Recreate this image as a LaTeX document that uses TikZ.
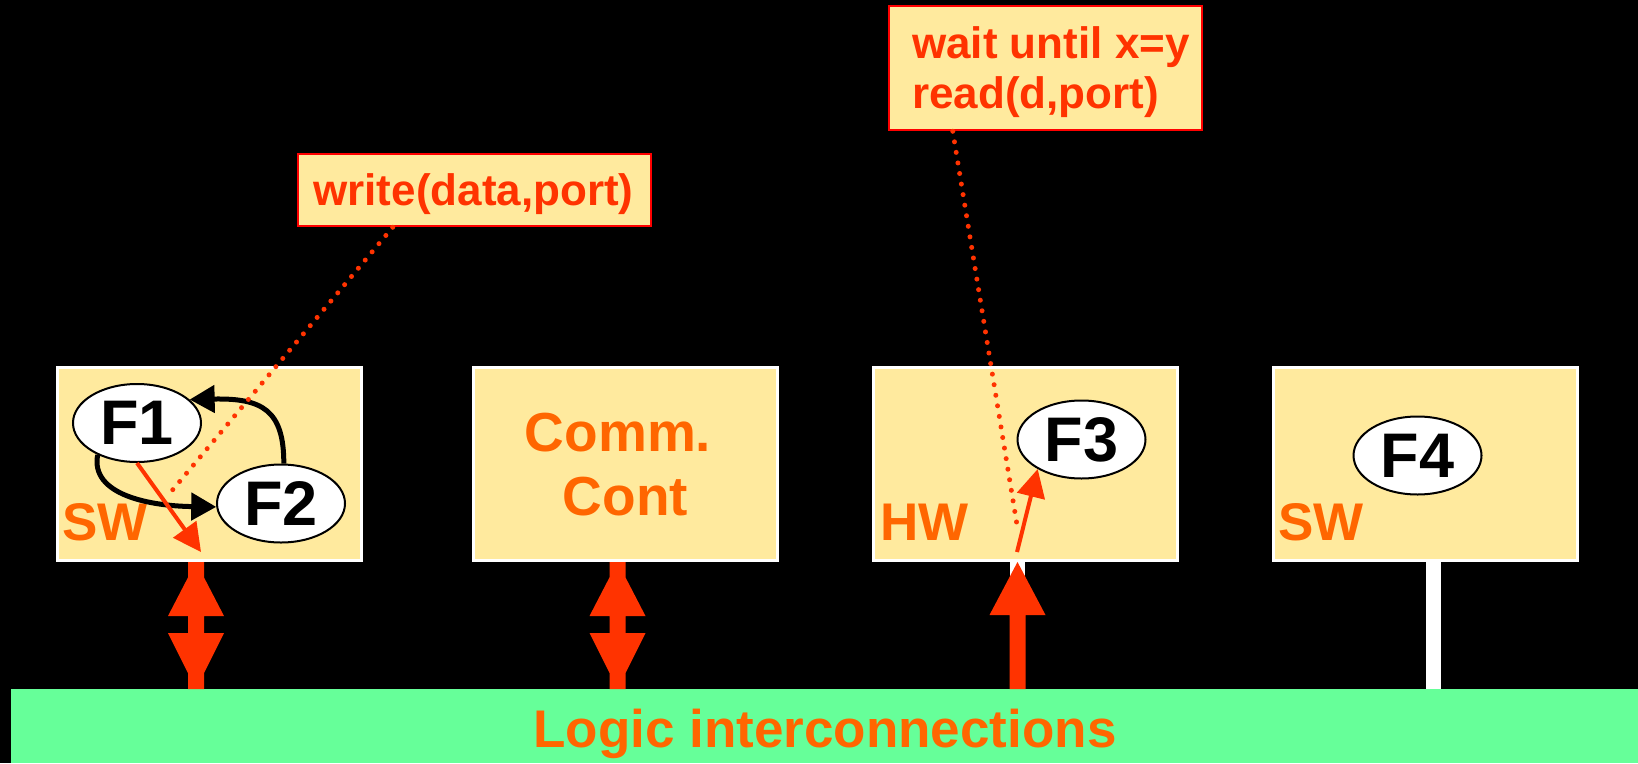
\documentclass[tikz,border=0pt]{standalone}
\usepackage{fontspec}
\setmainfont{Liberation Sans}
\usetikzlibrary{shapes.geometric,arrows.meta,calc}

\definecolor{boxfill}{RGB}{255,234,158}
\definecolor{busgreen}{RGB}{102,255,153}
\definecolor{labelorange}{RGB}{255,102,0}
\definecolor{codered}{RGB}{255,51,0}
\definecolor{notered}{RGB}{255,0,0}

\tikzset{
  unit/.style={draw=white, line width=3pt, fill=boxfill,
    minimum width=304pt, minimum height=193pt, inner sep=0pt},
  func/.style={ellipse, draw=black, line width=2pt, fill=white,
    minimum width=128pt, minimum height=78pt, inner sep=0pt,
    font=\fontsize{63}{63}\selectfont\bfseries},
  kind/.style={text=labelorange, font=\fontsize{53}{53}\selectfont\bfseries,
    inner sep=0pt, anchor=base west},
  commtext/.style={text=labelorange, font=\fontsize{55}{55}\selectfont\bfseries,
    inner sep=0pt, anchor=base},
  note/.style={draw=notered, line width=2.5pt, fill=boxfill, inner sep=0pt},
  notetext/.style={text=codered, font=\fontsize{44}{50}\selectfont\bfseries,
    inner sep=0pt},
  tether/.style={draw=white, line width=15pt},
  callout/.style={draw=codered, line width=5pt,
    dash pattern=on 0pt off 10.7pt, line cap=round},
  flow/.style={draw=black, line width=5pt, -{Triangle[length=25pt,width=27pt]}},
  access/.style={draw=codered, line width=4pt, -{Triangle[length=28pt,width=28pt]}},
  pics/dblarrow/.style={code={
    \fill[codered] (-8,0) -- (8,0) -- (8,15.4) -- (28,54) -- (8,54) -- (8,71)
      -- (28,71) -- (8,111) -- (8,127) -- (-8,127) -- (-8,111) -- (-28,71)
      -- (-8,71) -- (-8,54) -- (-28,54) -- (-8,15.4) -- cycle;}},
  pics/uparrow/.style={code={
    \fill[codered] (0,0) -- (28,53) -- (8,53) -- (8,127) -- (-8,127)
      -- (-8,53) -- (-28,53) -- cycle;}},
}

\begin{document}
\begin{tikzpicture}[x=1pt,y=-1pt]
  % canvas
  \fill[black] (0,0) rectangle (1638,763);
  \useasboundingbox (0,0) rectangle (1638,763);

  % logic interconnection bus
  \node[fill=busgreen, minimum width=1627pt, minimum height=74pt, inner sep=0pt,
        anchor=north west] (bus) at (11,689) {};
  \node[text=labelorange, font=\fontsize{53}{53}\selectfont\bfseries,
        inner sep=0pt, anchor=base] (buslabel) at (825,747) {Logic interconnections};

  % attachment points on the units
  \coordinate (p1) at (196,562);
  \coordinate (p2) at (617.5,562);
  \coordinate (p3) at (1017.5,562);
  \coordinate (p4) at (1433.5,562);

  % white links from units to the bus
  \draw[tether] (p1) -- (p1 |- bus.north);
  \draw[tether] (p3) -- (p3 |- bus.north);
  \draw[tether] (p4) -- (p4 |- bus.north);

  % processing units
  \node[unit] (sw1) at (209,464) {};
  \node[unit] (cc)  at (625.5,464) {};
  \node[unit] (hw)  at (1025.5,464) {};
  \node[unit] (sw2) at (1425.5,464) {};

  \node[kind] (sw1label) at (62,540) {SW};
  \node[kind] (hwlabel)  at (880,540) {HW};
  \node[kind] (sw2label) at (1278,540) {SW};
  \node[commtext] (comm1) at (618,451) {Comm.};
  \node[commtext] (comm2) at (625.5,515) {Cont};

  % block arrows to the bus
  \pic at (p1) {dblarrow};
  \pic at (p2) {dblarrow};
  \pic at (p3) {uparrow};

  % functions
  \node[func] (F1) at (137,423) {F1};
  \node[func] (F2) at (281,503.5) {F2};
  \node[func] (F3) at (1081.5,439.5) {F3};
  \node[func] (F4) at (1417.5,455.5) {F4};

  % control flow between F1 and F2
  \draw[flow] (F1.219) .. controls (90,495) and (150,506) .. (F2.183);
  \draw[flow] (F2.86) .. controls (284,410) and (262,398) .. (F1.24);

  % port accesses
  \coordinate (w1) at (201,552);
  \draw[access] (F1.south) -- (w1);
  \coordinate (r1) at (1017,552);
  \draw[access] (r1) -- (F3.214);

  % communication primitives
  \node[note, minimum width=353pt, minimum height=72pt] (writebox) at (474.5,190) {};
  \node[notetext, anchor=base] (writetext) at (473.5,205) {write(data,port)};

  \node[note, minimum width=313pt, minimum height=124pt] (readbox) at (1045.5,68) {};
  \node[notetext, anchor=base west] (waitline) at (912,58) {wait until x=y};
  \node[notetext, anchor=base west] (readline) at (912,108) {read(d,port)};

  \coordinate (wend) at (170,493);
  \draw[callout] ($(writebox.south west)!0.27!(writebox.south east)$) -- (wend);
  \coordinate (rend) at (1017,525);
  \draw[callout] ($(readbox.south west)!0.206!(readbox.south east)$) -- (rend);
\end{tikzpicture}
\end{document}
